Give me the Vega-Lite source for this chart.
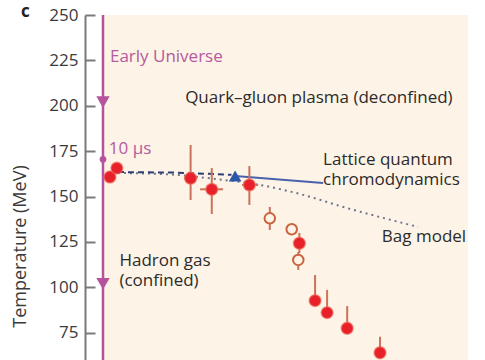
{
  "$schema": "https://vega.github.io/schema/vega-lite/v6.json",
  "width": 365,
  "height": 345,
  "autosize": {"type": "none"},
  "padding": {"left": 103, "top": 15, "right": 17, "bottom": 0},
  "background": "white",
  "config": {"font": "Open Sans", "view": {"fill": "#fdf3e6", "stroke": null}},
  "datasets": {
    "points": [
      {"mu": 19, "T": 160.8, "kind": "filled"},
      {"mu": 38, "T": 165.7, "kind": "filled"},
      {"mu": 240, "T": 160.1, "Tlo": 148.1, "Thi": 178.4, "mulo": 222, "muhi": 258, "kind": "filled"},
      {"mu": 298, "T": 154.0, "Tlo": 140.4, "Thi": 165.7, "mulo": 266, "muhi": 329, "kind": "filled"},
      {"mu": 401, "T": 156.4, "Tlo": 145.4, "Thi": 166.8, "mulo": 381, "muhi": 425, "kind": "filled"},
      {"mu": 457, "T": 138.0, "Tlo": 131.6, "Thi": 144.3, "kind": "open"},
      {"mu": 517, "T": 132.0, "kind": "open"},
      {"mu": 538, "T": 124.3, "Tlo": 118.9, "Thi": 130.0, "kind": "filled"},
      {"mu": 535, "T": 115.1, "Tlo": 109.6, "Thi": 119.5, "kind": "open"},
      {"mu": 581, "T": 92.7, "Tlo": 92.7, "Thi": 106.8, "kind": "filled"},
      {"mu": 614, "T": 86.1, "Tlo": 86.1, "Thi": 98.6, "kind": "filled"},
      {"mu": 669, "T": 77.5, "Tlo": 77.5, "Thi": 89.7, "kind": "filled"},
      {"mu": 759, "T": 64.0, "Tlo": 64.0, "Thi": 72.8, "kind": "filled"},
      {"mu": 362, "T": 161.3, "kind": "lattice"}
    ],
    "curves": [
      {"series": "early", "mu": 0, "T": 250},
      {"series": "early", "mu": 0, "T": 60},
      {"series": "dashed", "mu": 41, "T": 163.5},
      {"series": "dashed", "mu": 200, "T": 163.2},
      {"series": "dashed", "mu": 352, "T": 162.0},
      {"series": "lqcd", "mu": 362, "T": 161.3},
      {"series": "lqcd", "mu": 603, "T": 157.5},
      {"series": "bag", "mu": 41, "T": 163.0},
      {"series": "bag", "mu": 184, "T": 162.2},
      {"series": "bag", "mu": 307, "T": 159.7},
      {"series": "bag", "mu": 430, "T": 156.4},
      {"series": "bag", "mu": 540, "T": 151.4},
      {"series": "bag", "mu": 668, "T": 143.7},
      {"series": "bag", "mu": 863, "T": 133.3}
    ],
    "markers": [
      {"mu": 0, "T": 202, "kind": "arrow"},
      {"mu": 0, "T": 102, "kind": "arrow"},
      {"mu": 0, "T": 170.5, "kind": "dot"}
    ],
    "labels": [
      {"text": "Early Universe", "mu": 19, "T": 224.1, "group": "purple"},
      {"text": "10 µs", "mu": 16, "T": 173.5, "group": "purple"},
      {"text": "Quark–gluon plasma (deconfined)", "mu": 225, "T": 201.5, "group": "dark"},
      {"text": "Lattice quantum\nchromodynamics", "mu": 603, "T": 167.6, "group": "dark"},
      {"text": "Bag model", "mu": 764, "T": 125.2, "group": "dark"},
      {"text": "Hadron gas\n(confined)", "mu": 45, "T": 111.8, "group": "dark"},
      {"text": "c", "mu": -225, "T": 248.9, "group": "panel"}
    ]
  },
  "encoding": {
    "x": {"field": "mu", "type": "quantitative", "scale": {"domain": [0, 1000], "nice": false, "zero": false}, "axis": null},
    "y": {
      "field": "T", "type": "quantitative",
      "scale": {"domain": [60, 250], "nice": false, "zero": false},
      "axis": {
        "title": "Temperature (MeV)",
        "offset": 18,
        "values": [75, 100, 125, 150, 175, 200, 225, 250],
        "grid": false,
        "tickSize": -10,
        "tickWidth": 2,
        "tickColor": "#7a7a7a",
        "domainColor": "#7a7a7a",
        "domainWidth": 2,
        "labelPadding": 17,
        "labelFontSize": 17,
        "labelColor": "#3a3a3a",
        "labelFont": "Open Sans",
        "titleFont": "Open Sans",
        "titleFontSize": 18,
        "titleFontWeight": "normal",
        "titleColor": "#3a3a3a",
        "titleAngle": -90,
        "titleAlign": "center",
        "titleBaseline": "alphabetic",
        "titleX": -60,
        "titleY": 231
      }
    }
  },
  "layer": [
    {
      "data": {"name": "curves"},
      "transform": [{"filter": "datum.series === 'early'"}],
      "mark": {"type": "line", "color": "#b4549c", "strokeWidth": 2.5},
      "encoding": {}
    },
    {
      "data": {"name": "curves"},
      "transform": [{"filter": "datum.series === 'bag'"}],
      "mark": {"type": "line", "color": "#6d7590", "strokeWidth": 2, "strokeDash": [2, 4], "interpolate": "monotone"},
      "encoding": {}
    },
    {
      "data": {"name": "curves"},
      "transform": [{"filter": "datum.series === 'dashed'"}],
      "mark": {"type": "line", "color": "#2c3e78", "strokeWidth": 2, "strokeDash": [6, 4]},
      "encoding": {}
    },
    {
      "data": {"name": "curves"},
      "transform": [{"filter": "datum.series === 'lqcd'"}],
      "mark": {"type": "line", "color": "#4a62ae", "strokeWidth": 2},
      "encoding": {}
    },
    {
      "data": {"name": "points"},
      "transform": [{"filter": "isValid(datum.Thi)"}],
      "mark": {"type": "rule", "color": "#c9735a", "strokeWidth": 2},
      "encoding": {"y": {"field": "Tlo", "type": "quantitative"}, "y2": {"field": "Thi"}}
    },
    {
      "data": {"name": "points"},
      "transform": [{"filter": "isValid(datum.muhi)"}],
      "mark": {"type": "rule", "color": "#c9735a", "strokeWidth": 2},
      "encoding": {"x": {"field": "mulo", "type": "quantitative"}, "x2": {"field": "muhi"}}
    },
    {
      "data": {"name": "points"},
      "transform": [{"filter": "datum.kind === 'open'"}],
      "mark": {"type": "point", "shape": "circle", "size": 110, "filled": false, "fill": "#fdf3e6", "fillOpacity": 1, "stroke": "#c9643f", "strokeWidth": 2, "opacity": 1},
      "encoding": {}
    },
    {
      "data": {"name": "points"},
      "transform": [{"filter": "datum.kind === 'filled'"}],
      "mark": {"type": "point", "shape": "circle", "size": 140, "filled": true, "color": "#e8202a", "opacity": 1, "stroke": "#f06a5a", "strokeWidth": 1.5, "strokeOpacity": 0.6},
      "encoding": {}
    },
    {
      "data": {"name": "points"},
      "transform": [{"filter": "datum.kind === 'lattice'"}],
      "mark": {"type": "point", "shape": "triangle-up", "size": 160, "filled": true, "color": "#2d55a8", "opacity": 1},
      "encoding": {}
    },
    {
      "data": {"name": "markers"},
      "transform": [{"filter": "datum.kind === 'arrow'"}],
      "mark": {"type": "point", "shape": "triangle-down", "size": 180, "filled": true, "color": "#b4549c", "opacity": 1},
      "encoding": {}
    },
    {
      "data": {"name": "markers"},
      "transform": [{"filter": "datum.kind === 'dot'"}],
      "mark": {"type": "point", "shape": "circle", "size": 45, "filled": true, "color": "#b4549c", "opacity": 1},
      "encoding": {}
    },
    {
      "data": {"name": "labels"},
      "transform": [{"filter": "datum.group === 'purple'"}],
      "mark": {"type": "text", "align": "left", "baseline": "alphabetic", "fontSize": 17, "color": "#b55aa0", "font": "Open Sans"},
      "encoding": {"text": {"field": "text"}}
    },
    {
      "data": {"name": "labels"},
      "transform": [{"filter": "datum.group === 'dark'"}],
      "mark": {"type": "text", "align": "left", "baseline": "alphabetic", "fontSize": 17, "color": "#2b2b2b", "font": "Open Sans", "lineBreak": "\n", "lineHeight": 20},
      "encoding": {"text": {"field": "text"}}
    },
    {
      "data": {"name": "labels"},
      "transform": [{"filter": "datum.group === 'panel'"}],
      "mark": {"type": "text", "align": "left", "baseline": "alphabetic", "fontSize": 17, "fontWeight": "bold", "color": "#222222", "font": "Open Sans"},
      "encoding": {"text": {"field": "text"}}
    }
  ]
}
